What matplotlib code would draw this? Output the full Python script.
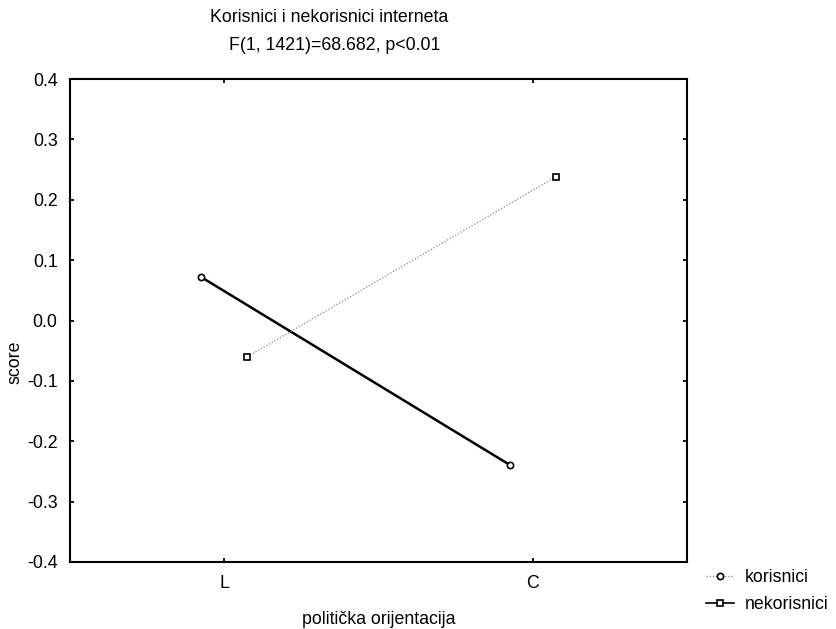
import numpy as np
import matplotlib.pyplot as plt
from matplotlib.lines import Line2D

plt.rcParams['font.family'] = ['Liberation Sans', 'DejaVu Sans']

categories = ["L", "C"]
korisnici = [0.072, -0.239]
nekorisnici = [-0.060, 0.238]
y_ticks = [-0.4, -0.3, -0.2, -0.1, 0.0, 0.1, 0.2, 0.3, 0.4]
y_tick_labels = ["-0.4", "-0.3", "-0.2", "-0.1", "0.0", "0.1", "0.2", "0.3", "0.4"]
title_lines = ["Korisnici i nekorisnici interneta", "F(1, 1421)=68.682, p<0.01"]

fs = 12.8

fig = plt.figure(figsize=(8.36, 6.29), dpi=100)
ax = fig.add_axes([70/836, 1-562/629, 617/836, 483/629])

x = np.arange(len(categories))
ax.plot(x - 0.075, korisnici, color='black', lw=1.8, marker='o', ms=4.5,
        mfc='white', mec='black', mew=1.2)
ax.plot(x + 0.075, nekorisnici, color='#888888', lw=0.9, ls=(0, (1, 1.5)),
        marker='s', ms=4.5, mfc='white', mec='black', mew=1.2)

ax.set_xlim(-0.5, 1.5)
ax.set_ylim(-0.4, 0.4)
ax.set_xticks(x)
ax.set_xticklabels(categories)
ax.set_yticks(y_ticks)
ax.set_yticklabels(y_tick_labels)
ax.tick_params(direction='in', length=3, width=1.3, top=True, right=True,
               labelsize=fs, pad=9)
for s in ax.spines.values():
    s.set_linewidth(1.5)

ax.set_xlabel("politička orijentacija", fontsize=fs, labelpad=14)
# y label sits a bit below the axes centre in the original
fig.text(15/836, 1-362/629, "score", rotation=90, ha='center', va='center', fontsize=fs)

fig.text(329/836, 1-18/629, title_lines[0], ha='center', va='center', fontsize=fs)
fig.text(335/836, 1-45/629, title_lines[1], ha='center', va='center', fontsize=fs)

handles = [
    Line2D([], [], color='#888888', lw=0.9, ls=(0, (1, 1.5)), marker='o', ms=4.5,
           mfc='white', mec='black', mew=1.2),
    Line2D([], [], color='black', lw=1.2, marker='s', ms=4.5,
           mfc='white', mec='black', mew=1.2),
]
fig.legend(handles, ["korisnici", "nekorisnici"], loc='center left',
           bbox_to_anchor=(697/836, 1-591/629), frameon=False, fontsize=fs,
           handlelength=1.6, handletextpad=0.6, labelspacing=0.55, borderpad=0)

fig.savefig("out.png", dpi=100)
